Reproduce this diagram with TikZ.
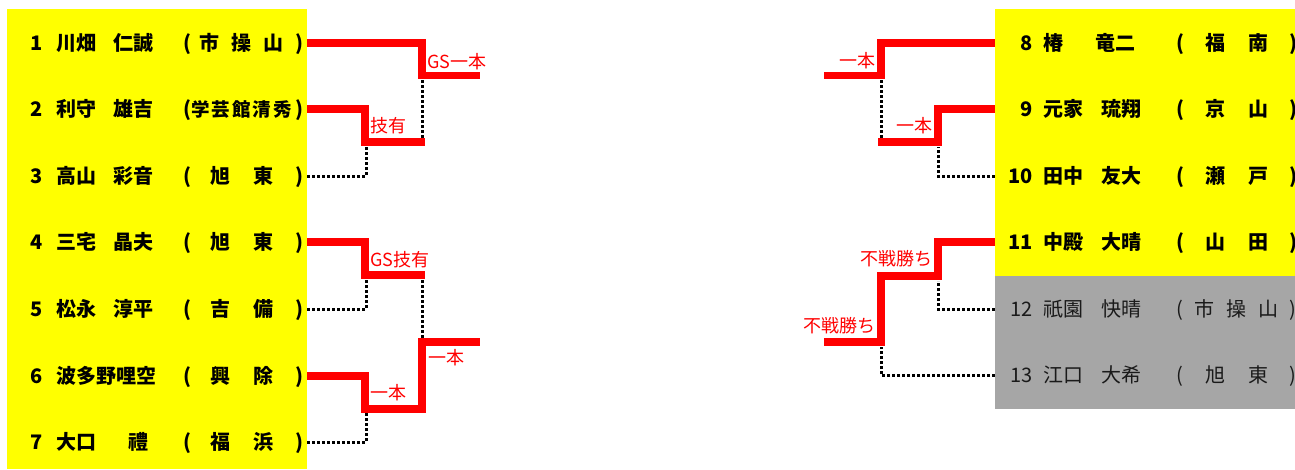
\documentclass[tikz,border=0pt]{standalone}
\usepackage{fontspec}
\setmainfont{Noto Sans CJK JP}
\usepackage{xcolor}
\usepackage{tikz}
\usetikzlibrary{positioning,calc}
\definecolor{byellow}{HTML}{FFFF00}
\definecolor{bgrey}{HTML}{A6A6A6}
\definecolor{bred}{HTML}{FF0000}
\definecolor{btext}{HTML}{1A1A1A}

\begin{document}
\begin{tikzpicture}[x=1pt, y=-1pt,
  win/.style={draw=bred, line width=7.5pt},
  lose/.style={draw=black, line width=3pt, dash pattern=on 3pt off 2pt},
  res/.style={text=bred, inner sep=0pt, font=\fontsize{18}{18}\selectfont},
  ent/.style={inner sep=0pt, font=\fontsize{20}{20}\selectfont\bfseries},
  entg/.style={inner sep=0pt, text=btext, font=\fontsize{20}{20}\selectfont}]
  \useasboundingbox (0,0) rectangle (1295,469);
  % name boards
  \fill[byellow] (7,9) rectangle (307,469);
  \fill[byellow] (995,9) rectangle (1295,275.5);
  \fill[bgrey] (995,275.5) rectangle (1295,409);

  % left entries
  \foreach \k/\y/\fam/\gx/\giv/\sch in {
      1/43/川畑/113/仁誠/{市\hspace{12pt}操\hspace{12pt}山},
      2/109/利守/113/雄吉/{\fontsize{18.5}{18}\selectfont 学\kern2pt 芸\kern2pt 館\kern2pt 清\kern2pt 秀},
      3/176/高山/113/彩音/{旭\hspace{23pt}東},
      4/242/三宅/113/晶夫/{旭\hspace{23pt}東},
      5/309/松永/113/淳平/{吉\hspace{23pt}備},
      6/376/波多野哩空/113/{}/{興\hspace{23pt}除},
      7/442/大口/128/禮/{福\hspace{23pt}浜}}{
    \node[ent, anchor=base east] (num\k) at (43,\y+7.6) {\k};
    \node[ent, anchor=base west] (fam\k) at (56,\y+7.6) {\fam};
    \node[ent, anchor=base west] (giv\k) at (\gx,\y+7.6) {\giv};
    \node[ent, anchor=base] (lp\k) at (187,\y+7.6) {(};
    \node[ent, anchor=base] (sch\k) at (241.5,\y+7.6) {\sch};
    \node[ent, anchor=base] (rp\k) at (299,\y+7.6) {)};
    \coordinate (e\k) at (307,\y);
  }

  % right entries
  \foreach \k/\y/\st/\fam/\gx/\giv/\sch in {
      8/43/ent/椿/1095/竜二/{福\hspace{23pt}南},
      9/109/ent/元家/1101/琉翔/{京\hspace{23pt}山},
      10/176/ent/田中/1101/友大/{瀬\hspace{23pt}戸},
      11/242/ent/中殿/1101/大晴/{山\hspace{23pt}田},
      12/309/entg/祇園/1101/快晴/{市\hspace{12pt}操\hspace{12pt}山},
      13/375/entg/江口/1101/大希/{旭\hspace{23pt}東}}{
    \node[\st, anchor=base east] (num\k) at (1033,\y+7.6) {\k};
    \node[\st, anchor=base west] (fam\k) at (1043,\y+7.6) {\fam};
    \node[\st, anchor=base west] (giv\k) at (\gx,\y+7.6) {\giv};
    \node[\st, anchor=base] (lp\k) at (1180,\y+7.6) {(};
    \node[\st, anchor=base] (sch\k) at (1236.5,\y+7.6) {\sch};
    \node[\st, anchor=base] (rp\k) at (1293,\y+7.6) {)};
    \coordinate (e\k) at (995,\y);
  }

  % left bracket
  \coordinate (a1) at (422,75.5);  \coordinate (o1) at (480,75.5);
  \coordinate (a2) at (365,142);   \coordinate (b2) at (425,142);
  \coordinate (c3) at (366,147);
  \coordinate (a4) at (365,275);   \coordinate (b4) at (425,275);
  \coordinate (c5) at (366,280);
  \coordinate (a6) at (365,409);   \coordinate (a7) at (422,342);
  \coordinate (o2) at (480,342);   \coordinate (c7) at (366,413);
  \draw[lose] (e3) -| (c3);
  \draw[lose] (422,80) -- (422,138);
  \draw[lose] (e5) -| (c5);
  \draw[lose] (e7) -| (c7);
  \draw[lose] (422,280) -- (422,338);
  \draw[win] (e1) -| (a1) -- (o1);
  \draw[win] (e2) -| (a2) -- (b2);
  \draw[win] (e4) -| (a4) -- (b4);
  \draw[win] (e6) -| (a6) -| (a7) -- (o2);
  \node[res, anchor=base west] (r1) at (427,68.8) {GS一本};
  \node[res, anchor=base west] (r2) at (370,132.8) {技有};
  \node[res, anchor=base west] (r3) at (370,266.8) {GS技有};
  \node[res, anchor=base west] (r4) at (370,399.8) {一本};
  \node[res, anchor=base west] (r5) at (428,364.8) {一本};

  % right bracket
  \coordinate (a8) at (881,75.5);  \coordinate (o3) at (824,75.5);
  \coordinate (a9) at (938,142);   \coordinate (b9) at (878,142);
  \coordinate (c10) at (938,147);
  \coordinate (a11) at (938,276);  \coordinate (a12) at (881,342);
  \coordinate (o4) at (824,342);
  \coordinate (c12) at (938,281);  \coordinate (c13) at (881,347);
  \draw[lose] (e10) -| (c10);
  \draw[lose] (881,80) -- (881,138);
  \draw[lose] (e12) -| (c12);
  \draw[lose] (e13) -| (c13);
  \draw[win] (e8) -| (a8) -- (o3);
  \draw[win] (e9) -| (a9) -- (b9);
  \draw[win] (e11) -| (a11) -| (a12) -- (o4);
  \node[res, anchor=base east] (r6) at (876,67.8) {一本};
  \node[res, anchor=base east] (r7) at (933,132.8) {一本};
  \node[res, anchor=base east] (r8) at (933,265.8) {不戦勝ち};
  \node[res, anchor=base east] (r9) at (876,332.8) {不戦勝ち};
\end{tikzpicture}
\end{document}
